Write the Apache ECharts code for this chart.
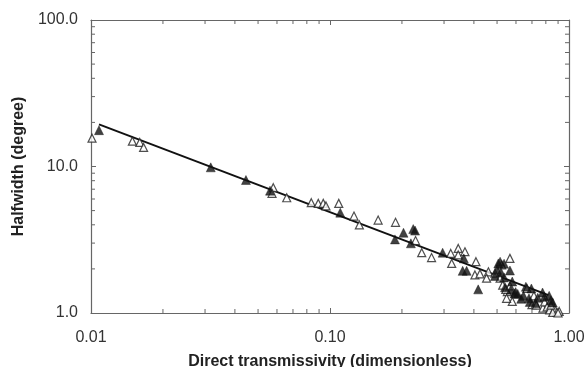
<!DOCTYPE html>
<html>
<head>
<meta charset="utf-8">
<script src="https://cdn.jsdelivr.net/npm/echarts@6/dist/echarts.min.js"></script>
<style>
  html, body { margin: 0; padding: 0; background: #fff; }
  #chart { width: 584px; height: 367px; }
</style>
</head>
<body>
<div id="chart"></div>
<script>
// open triangles
const openX = [0.0101, 0.0149, 0.0160, 0.0166, 0.0579, 0.0572, 0.0659, 0.0835, 0.0893, 0.0937,
  0.0962, 0.1088, 0.126, 0.1327, 0.159, 0.188, 0.228, 0.242, 0.266, 0.320,
  0.344, 0.344, 0.367, 0.323, 0.408, 0.404, 0.424, 0.460, 0.452, 0.490,
  0.523, 0.515, 0.528, 0.552, 0.566, 0.544, 0.566, 0.579, 0.548, 0.667,
  0.713, 0.700, 0.730, 0.778, 0.790, 0.810, 0.830, 0.870, 0.890, 0.855,
  0.910, 0.840, 0.900];
const openY = [15.6, 14.9, 14.6, 13.5, 7.17, 6.56, 6.12, 5.66, 5.6, 5.6,
  5.38, 5.6, 4.59, 3.99, 4.31, 4.16, 3.12, 2.58, 2.39, 2.55,
  2.76, 2.49, 2.62, 2.18, 2.24, 1.82, 1.85, 1.91, 1.73, 1.87,
  2.13, 1.73, 1.55, 1.40, 2.36, 1.45, 1.53, 1.20, 1.26, 1.47,
  1.31, 1.14, 1.13, 1.08, 1.19, 1.10, 1.05, 1.065, 1.01, 1.01,
  1.025, 1.13, 1.0];

// filled triangles
const filledX = [0.0108, 0.0317, 0.0445, 0.0561, 0.1104, 0.203, 0.223, 0.227, 0.187, 0.218,
  0.296, 0.363, 0.359, 0.373, 0.417, 0.506, 0.515, 0.500, 0.535, 0.566,
  0.519, 0.490, 0.535, 0.579, 0.540, 0.571, 0.592, 0.598, 0.610, 0.631,
  0.645, 0.660, 0.696, 0.680, 0.685, 0.725, 0.740, 0.775, 0.790, 0.826,
  0.840, 0.855];
const filledY = [17.7, 9.87, 8.09, 6.84, 4.84, 3.53, 3.74, 3.65, 3.18, 2.99,
  2.58, 2.36, 1.94, 1.94, 1.45, 2.18, 2.24, 1.97, 2.17, 1.95,
  1.90, 1.79, 1.75, 1.64, 1.50, 1.44, 1.36, 1.39, 1.35, 1.25,
  1.31, 1.51, 1.47, 1.26, 1.19, 1.17, 1.27, 1.38, 1.29, 1.31,
  1.22, 1.18];

// power-law fit  y = fitA * x^fitB, drawn over fitRange
const fitA = 1.17;
const fitB = -0.62;
const fitRange = [0.0108, 0.82];

// minor tick positions (log decades)
const xMinor = [0.02, 0.03, 0.04, 0.05, 0.06, 0.07, 0.08, 0.09,
  0.2, 0.3, 0.4, 0.5, 0.6, 0.7, 0.8, 0.9];
const yMinor = [2, 3, 4, 5, 6, 7, 8, 9, 20, 30, 40, 50, 60, 70, 80, 90];

function pairs(xs, ys) { return xs.map((x, i) => [x, ys[i]]); }
const fitLine = fitRange.map(x => [x, fitA * Math.pow(x, fitB)]);

const chart = echarts.init(document.getElementById('chart'));
const axisCol = '#666';
const font = 'Liberation Sans, Arial, sans-serif';
const minorLen = 4;

function logAxis(extra) {
  return Object.assign({
    type: 'log',
    logBase: 10,
    axisLine: { show: true, lineStyle: { color: axisCol, width: 1.2 } },
    axisTick: { show: true, inside: true, length: 5, lineStyle: { color: axisCol } },
    splitLine: { show: false }
  }, extra);
}

// draws minor ticks on both opposite edges of the grid
function minorTicks(isX) {
  return function (params, api) {
    const cs = params.coordSys;
    const p = api.coord([api.value(0), api.value(1)]);
    const style = { stroke: axisCol, lineWidth: 1 };
    if (isX) {
      const b = cs.y + cs.height, t = cs.y;
      return { type: 'group', children: [
        { type: 'line', shape: { x1: p[0], y1: b, x2: p[0], y2: b - minorLen }, style },
        { type: 'line', shape: { x1: p[0], y1: t, x2: p[0], y2: t + minorLen }, style }
      ] };
    }
    const l = cs.x, r = cs.x + cs.width;
    return { type: 'group', children: [
      { type: 'line', shape: { x1: l, y1: p[1], x2: l + minorLen, y2: p[1] }, style },
      { type: 'line', shape: { x1: r, y1: p[1], x2: r - minorLen, y2: p[1] }, style }
    ] };
  };
}

chart.setOption({
  backgroundColor: '#fff',
  animation: false,
  grid: { left: 91, right: 15, top: 20, bottom: 54, containLabel: false, outerBoundsMode: 'none' },
  xAxis: [
    logAxis({
      min: 0.01, max: 1,
      name: 'Direct transmissivity (dimensionless)',
      nameLocation: 'middle', nameGap: 41,
      nameTextStyle: { fontFamily: font, fontSize: 16, fontWeight: 'bold', color: '#222' },
      axisLabel: { fontFamily: font, fontSize: 16, color: '#333', margin: 17,
        formatter: v => v.toFixed(2) }
    }),
    logAxis({ min: 0.01, max: 1, position: 'top', axisLabel: { show: false } })
  ],
  yAxis: [
    logAxis({
      min: 1, max: 100,
      name: 'Halfwidth (degree)',
      nameLocation: 'middle', nameGap: 58,
      nameTextStyle: { fontFamily: font, fontSize: 16, fontWeight: 'bold', color: '#222' },
      axisLabel: { fontFamily: font, fontSize: 16, color: '#333', margin: 13,
        formatter: v => v.toFixed(1) }
    }),
    logAxis({ min: 1, max: 100, position: 'right', axisLabel: { show: false } })
  ],
  series: [
    {
      type: 'custom',
      renderItem: minorTicks(true),
      data: xMinor.map(v => [v, 1]),
      clip: false, silent: true, z: 1
    },
    {
      type: 'custom',
      renderItem: minorTicks(false),
      data: yMinor.map(v => [0.01, v]),
      clip: false, silent: true, z: 1
    },
    {
      type: 'line',
      data: fitLine,
      symbol: 'none',
      lineStyle: { color: '#111', width: 2 },
      z: 3
    },
    {
      type: 'scatter',
      data: pairs(openX, openY),
      symbol: 'triangle',
      symbolSize: 8,
      itemStyle: { color: '#fff', borderColor: '#222', borderWidth: 1.2 },
      z: 4
    },
    {
      type: 'scatter',
      data: pairs(filledX, filledY),
      symbol: 'triangle',
      symbolSize: 9,
      itemStyle: { color: '#111', borderColor: '#111', borderWidth: 0.5 },
      z: 5
    }
  ]
});
</script>
</body>
</html>
